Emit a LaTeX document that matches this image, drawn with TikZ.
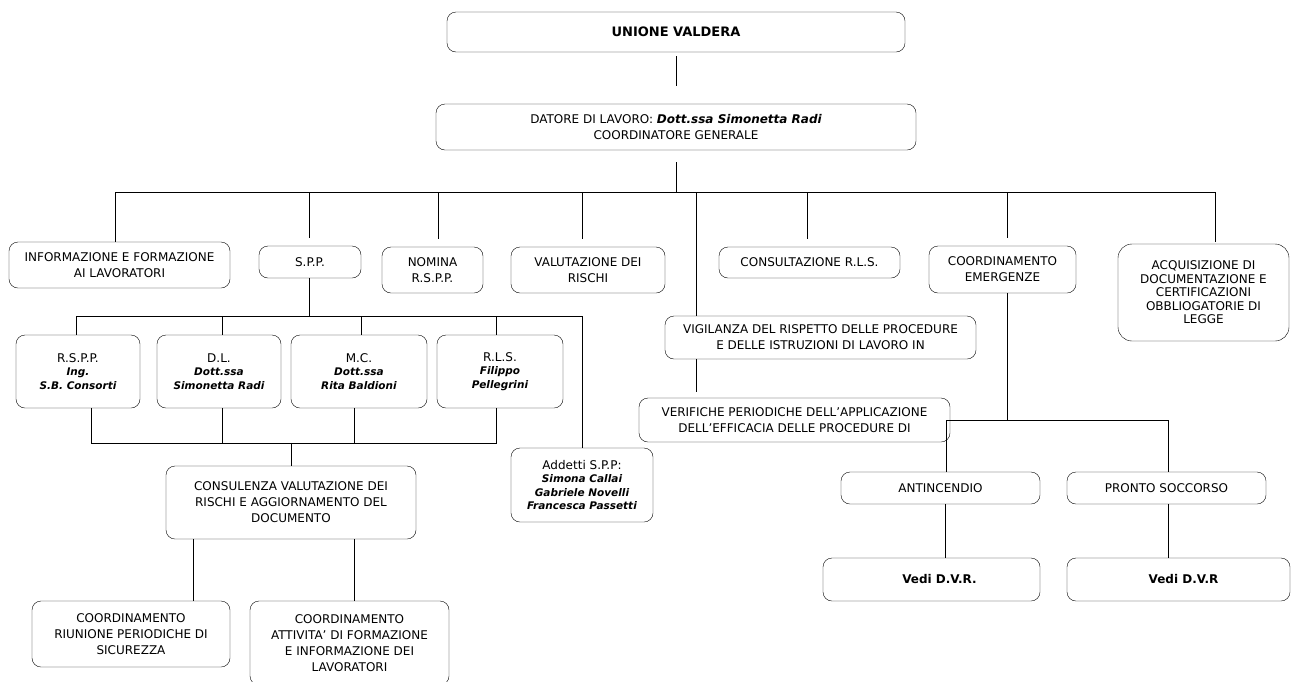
\documentclass[tikz,border=0pt]{standalone}
\usepackage{fontspec}
\setmainfont{DejaVu Sans}
\usetikzlibrary{calc}
\tikzset{line width=1.2pt}
\tikzset{box/.style={draw, rounded corners=9pt, align=center, inner sep=0pt, font=\fontsize{12}{16}\selectfont},
  tightbox/.style={box, font=\fontsize{12}{13.5}\selectfont}}
\newcommand{\bi}[1]{{\fontsize{10.5}{13.5}\selectfont\bfseries\itshape #1}}

\begin{document}
\begin{tikzpicture}[x=1pt,y=-1pt]
  \useasboundingbox (0,0) rectangle (1291,681);

  % top
  \node[box, minimum width=458pt, minimum height=40pt, font=\fontsize{13}{16}\selectfont\bfseries] (uv) at (676,32) {UNIONE VALDERA};
  \node[box, minimum width=480pt, minimum height=46pt] (dl) at (676,127) {DATORE DI LAVORO: {\bfseries\itshape Dott.ssa Simonetta Radi}\\COORDINATORE GENERALE};
  \coordinate (bus) at (676,192);
  \draw[shorten <=4pt, shorten >=18pt] (uv) -- (dl);
  \draw[shorten <=12pt] (dl.south) -- (bus);

  % first row
  \node[box, minimum width=221pt, minimum height=46pt] (info) at (119.5,265) {INFORMAZIONE E FORMAZIONE\\AI LAVORATORI};
  \node[box, minimum width=102pt, minimum height=32pt] (spp) at (310,262) {S.P.P.};
  \node[box, minimum width=101pt, minimum height=46pt] (nom) at (432.5,270) {NOMINA\\R.S.P.P.};
  \node[box, minimum width=154pt, minimum height=46pt] (val) at (588,270) {VALUTAZIONE DEI\\RISCHI};
  \node[box, minimum width=181pt, minimum height=31pt] (cons) at (809.5,262.5) {CONSULTAZIONE R.L.S.};
  \node[box, minimum width=147pt, minimum height=47pt] (coem) at (1002.5,269.5) {COORDINAMENTO\\EMERGENZE};
  \node[tightbox, rounded corners=14pt, minimum width=171pt, minimum height=97pt] (acq) at (1203.5,292.5) {ACQUISIZIONE DI\\DOCUMENTAZIONE E\\CERTIFICAZIONI\\OBBLIOGATORIE DI\\LEGGE};

  \draw ([xshift=-4.5pt]info.north) |- (bus);
  \draw[shorten <=8pt] ([xshift=-1pt]spp.north) |- (bus);
  \draw[shorten <=8pt] ([xshift=5.5pt]nom.north) |- (bus);
  \draw[shorten <=8pt] ([xshift=-6pt]val.north) |- (bus);
  \draw[shorten <=8pt] ([xshift=-2.5pt]cons.north) |- (bus);
  \draw[shorten <=8pt] ([xshift=4.5pt]coem.north) |- (bus);
  \draw[shorten <=2pt] ([xshift=11.5pt]acq.north) |- (bus);

  % vigilanza / verifiche
  \node[box, minimum width=311pt, minimum height=43pt] (vig) at (820.5,337.5) {VIGILANZA DEL RISPETTO DELLE PROCEDURE\\E DELLE ISTRUZIONI DI LAVORO IN};
  \node[box, minimum width=311pt, minimum height=44pt] (ver) at (794.5,420) {VERIFICHE PERIODICHE DELL’APPLICAZIONE\\DELL’EFFICACIA DELLE PROCEDURE DI};
  \draw ([xshift=-124.5pt]vig.north) |- (bus);
  \draw ([xshift=-124.5pt]vig.south) -- ([xshift=-98.5pt,yshift=6pt]ver.north);

  % S.P.P.
  \node[tightbox, minimum width=124pt, minimum height=73pt] (rspp) at (78,371.5) {R.S.P.P.\\\bi{Ing.}\\\bi{S.B. Consorti}};
  \node[tightbox, minimum width=124pt, minimum height=73pt] (dlb) at (219,371.5) {D.L.\\\bi{Dott.ssa}\\\bi{Simonetta Radi}};
  \node[tightbox, minimum width=136pt, minimum height=73pt] (mc) at (359,371.5) {M.C.\\\bi{Dott.ssa}\\\bi{Rita Baldioni}};
  \node[tightbox, minimum width=126pt, minimum height=73pt] (rls) at (500,371.5) {R.L.S.\\\bi{Filippo}\\\bi{Pellegrini}};
  \node[tightbox, minimum width=142pt, minimum height=74pt] (add) at (582,485) {Addetti S.P.P:\\\bi{Simona Callai}\\\bi{Gabriele Novelli}\\\bi{Francesca Passetti}};
  \coordinate (sb) at ($(spp.south)+(-1,38)$);
  \draw ([xshift=-1pt]spp.south) -- (sb);
  \draw ([xshift=-2pt]rspp.north) |- (sb);
  \draw ([xshift=3pt]dlb.north) |- (sb);
  \draw ([xshift=2pt]mc.north) |- (sb);
  \draw ([xshift=-4pt]rls.north) |- (sb);
  \draw (add.north) |- (sb);

  % consulenza
  \node[box, minimum width=250pt, minimum height=73pt] (cons2) at (291,502.5) {CONSULENZA VALUTAZIONE DEI\\RISCHI E AGGIORNAMENTO DEL\\DOCUMENTO};
  \coordinate (cb) at ($(cons2.north)+(0,-23)$);
  \draw ([xshift=13pt]rspp.south) |- (cb);
  \draw ([xshift=3pt]dlb.south) |- (cb);
  \draw ([xshift=-5pt]mc.south) |- (cb);
  \draw ([xshift=-4pt]rls.south) |- (cb);
  \draw (cb) -- (cons2.north);

  \node[box, minimum width=198pt, minimum height=66pt] (riu) at (131,634) {COORDINAMENTO\\RIUNIONE PERIODICHE DI\\SICUREZZA};
  \node[box, minimum width=199pt, minimum height=84pt] (att) at (349.5,643) {COORDINAMENTO\\ATTIVITA’ DI FORMAZIONE\\E INFORMAZIONE DEI\\LAVORATORI};
  \draw ([xshift=-98pt]cons2.south) -- ([xshift=62pt]riu.north);
  \draw ([xshift=63pt]cons2.south) -- ([xshift=4.5pt]att.north);

  % emergenze
  \node[box, minimum width=199pt, minimum height=32pt] (anti) at (940.5,488) {ANTINCENDIO};
  \node[box, minimum width=199pt, minimum height=32pt] (pron) at (1166.5,488) {PRONTO SOCCORSO};
  \node[box, minimum width=217pt, minimum height=43pt, font=\fontsize{12}{16}\selectfont\bfseries] (vdvr1) at (931.5,579.5) {\hspace*{16pt}Vedi D.V.R.};
  \node[box, minimum width=223pt, minimum height=43pt, font=\fontsize{12}{16}\selectfont\bfseries] (vdvr2) at (1178.5,579.5) {\hspace*{10pt}Vedi D.V.R};
  \coordinate (eb) at ($(coem.south)+(4.5,127)$);
  \draw ([xshift=4.5pt]coem.south) -- (eb);
  \draw ([xshift=5.5pt]anti.north) |- (eb);
  \draw ([xshift=1.5pt]pron.north) |- (eb);
  \draw ([xshift=4.5pt]anti.south) -- ([xshift=13.5pt]vdvr1.north);
  \draw ([xshift=1.5pt]pron.south) -- ([xshift=-10.5pt]vdvr2.north);
\end{tikzpicture}
\end{document}
